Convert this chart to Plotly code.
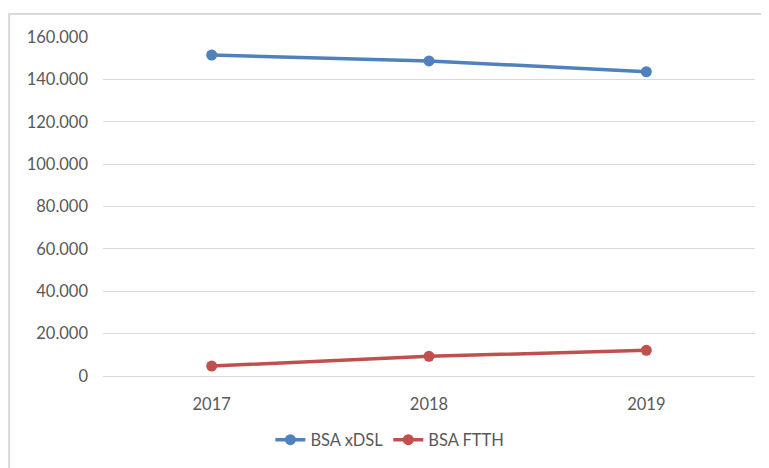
import plotly.graph_objs as go

years = ["2017", "2018", "2019"]
bsa_xdsl = [151500, 148700, 143600]
bsa_ftth = [4700, 9300, 12100]
y_ticks = [0, 20000, 40000, 60000, 80000, 100000, 120000, 140000, 160000]

BLUE = "#4F81BD"
RED = "#C0504D"
FONT = "Lato, 'Open Sans', sans-serif"

traces = [
    go.Scatter(x=years, y=bsa_xdsl, name="BSA xDSL", mode="lines+markers",
               line=dict(color=BLUE, width=3.5), marker=dict(color=BLUE, size=11)),
    go.Scatter(x=years, y=bsa_ftth, name="BSA FTTH", mode="lines+markers",
               line=dict(color=RED, width=3.5), marker=dict(color=RED, size=11)),
]

# page body has an 8px margin, so the figure is a bit smaller than the window
layout = go.Layout(
    width=761, height=460,
    margin=dict(l=95, r=14, t=29, b=91),
    paper_bgcolor="white",
    plot_bgcolor="white",
    separators=",.",
    font=dict(family=FONT, size=16.5, color="#595959"),
    xaxis=dict(type="category", range=[-0.5, 2.5], showgrid=False,
               showline=True, linecolor="#d9d9d9", linewidth=1,
               ticks="", ticklabelstandoff=13),
    yaxis=dict(range=[0, 160000], tickvals=y_ticks, tickformat=",d",
               showgrid=True, gridcolor="#d9d9d9", gridwidth=1,
               zeroline=False, showline=False, ticks="", ticklabelstandoff=14),
    showlegend=True,
    legend=dict(orientation="h", x=0.44, xanchor="center", y=-0.185,
                yanchor="middle", font=dict(size=16.5, color="#595959")),
    shapes=[dict(type="rect", xref="paper", yref="paper",
                 x0=-0.144, x1=1.05, y0=-0.4, y1=1.0676,
                 line=dict(color="#d9d9d9", width=2), layer="below")],
)

fig = go.Figure(data=traces, layout=layout)
fig.write_html("out.html")
